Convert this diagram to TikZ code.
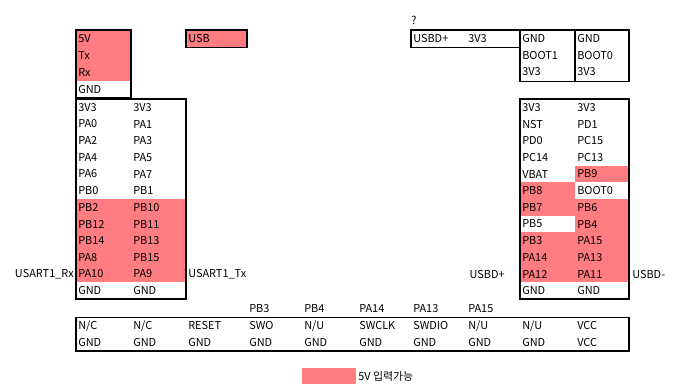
\documentclass[tikz,border=0pt]{standalone}
\usepackage{fontspec}
\setmainfont{Noto Sans CJK KR}
\definecolor{pinkc}{RGB}{255,124,128}
\begin{document}
\begin{tikzpicture}[x=0.75pt,y=-0.75pt,
  txt/.style={anchor=west,inner sep=0pt,font=\fontsize{8.2pt}{10pt}\selectfont},
  rtxt/.style={txt,anchor=east},
  box/.style={draw=black,line width=1.2pt},
  hot/.style={fill=pinkc}]
\useasboundingbox (0,0) rectangle (683,392);
% ---------- top-left connector ----------
\fill[hot] (76,30) rectangle (131,81);
\draw[box] (76,30) rectangle (131,98);
\foreach \t [count=\i from 0] in {5V,Tx,Rx,GND}
  \node[txt] (tl\i) at (78,{30+(\i+0.5)*17}) {\t};
% ---------- USB ----------
\fill[hot] (186,30) rectangle (247,47.5);
\draw[box] (186,30) rectangle (247,47.5);
\node[txt] (usb) at (188,38.8) {USB};
% ---------- left header ----------
\fill[hot] (76,199) rectangle (186,282.3);
\draw[box] (76,99) rectangle (186,299);
\foreach \a/\b [count=\i from 0] in {3V3/3V3,PA0/PA1,PA2/PA3,PA4/PA5,PA6/PA7,PB0/PB1,PB2/PB10,PB12/PB11,PB14/PB13,PA8/PB15,PA10/PA9,GND/GND}{
  \node[txt] (la\i) at (78,{99+(\i+0.5)*16.67}) {\a};
  \node[txt] (lb\i) at (133,{99+(\i+0.5)*16.67}) {\b};
}
\node[rtxt] (rx) at (74,274.2) {USART1\_Rx};
\node[txt] (tx) at (188,274.2) {USART1\_Tx};
% ---------- right header ----------
\fill[hot] (575,165.7) rectangle (629,182.3);
\fill[hot] (520,182.3) rectangle (575,199);
\fill[hot] (520,199) rectangle (629,215.7);
\fill[hot] (575,215.7) rectangle (629,232.3);
\fill[hot] (520,232.3) rectangle (629,282.3);
\draw[box] (520,99) rectangle (629,299);
\foreach \a/\b [count=\i from 0] in {3V3/3V3,NST/PD1,PD0/PC15,PC14/PC13,VBAT/PB9,PB8/BOOT0,PB7/PB6,PB5/PB4,PB3/PA15,PA14/PA13,PA12/PA11,GND/GND}{
  \node[txt] (ra\i) at (522,{99+(\i+0.5)*16.67}) {\a};
  \node[txt] (rb\i) at (577,{99+(\i+0.5)*16.67}) {\b};
}
\node[rtxt] (dp) at (505,274.2) {USBD+};
\node[txt] (dm) at (632,274.2) {USBD-};
% ---------- top-right ----------
\node[txt] (q) at (411,20.5) {?};
\draw[box] (411,30) rectangle (520,47.7);
\draw[box] (520,30) rectangle (575,81.7);
\draw[box] (575,30) rectangle (629,81.7);
\node[txt] (tr1) at (413,38.8) {USBD+};
\node[txt] (tr2) at (468,38.8) {3V3};
\foreach \a/\b [count=\i from 0] in {GND/GND,BOOT1/BOOT0,3V3/3V3}{
  \node[txt] (ba\i) at (522,{30+(\i+0.5)*16.67}) {\a};
  \node[txt] (bb\i) at (577,{30+(\i+0.5)*16.67}) {\b};
}
% ---------- bottom JTAG/SWD ----------
\foreach \x/\t [count=\i] in {249/PB3,304/PB4,359/PA14,413/PA13,468/PA15}
  \node[txt] (h\i) at (\x,308.5) {\t};
\draw[box] (76,317.5) rectangle (629,351);
\foreach \x/\a/\b [count=\i] in {78/N\slash C/GND,133/N\slash C/GND,188/RESET/GND,249/SWO/GND,304/N\slash U/GND,359/SWCLK/GND,413/SWDIO/GND,468/N\slash U/GND,522/N\slash U/GND,577/VCC/VCC}{
  \node[txt] (ja\i) at (\x,325.8) {\a};
  \node[txt] (jb\i) at (\x,342.5) {\b};
}
% ---------- legend ----------
\fill[hot] (302,368) rectangle (356,384);
\node[txt] (leg) at (358,376) {5V 입력가능};
\end{tikzpicture}
\end{document}
